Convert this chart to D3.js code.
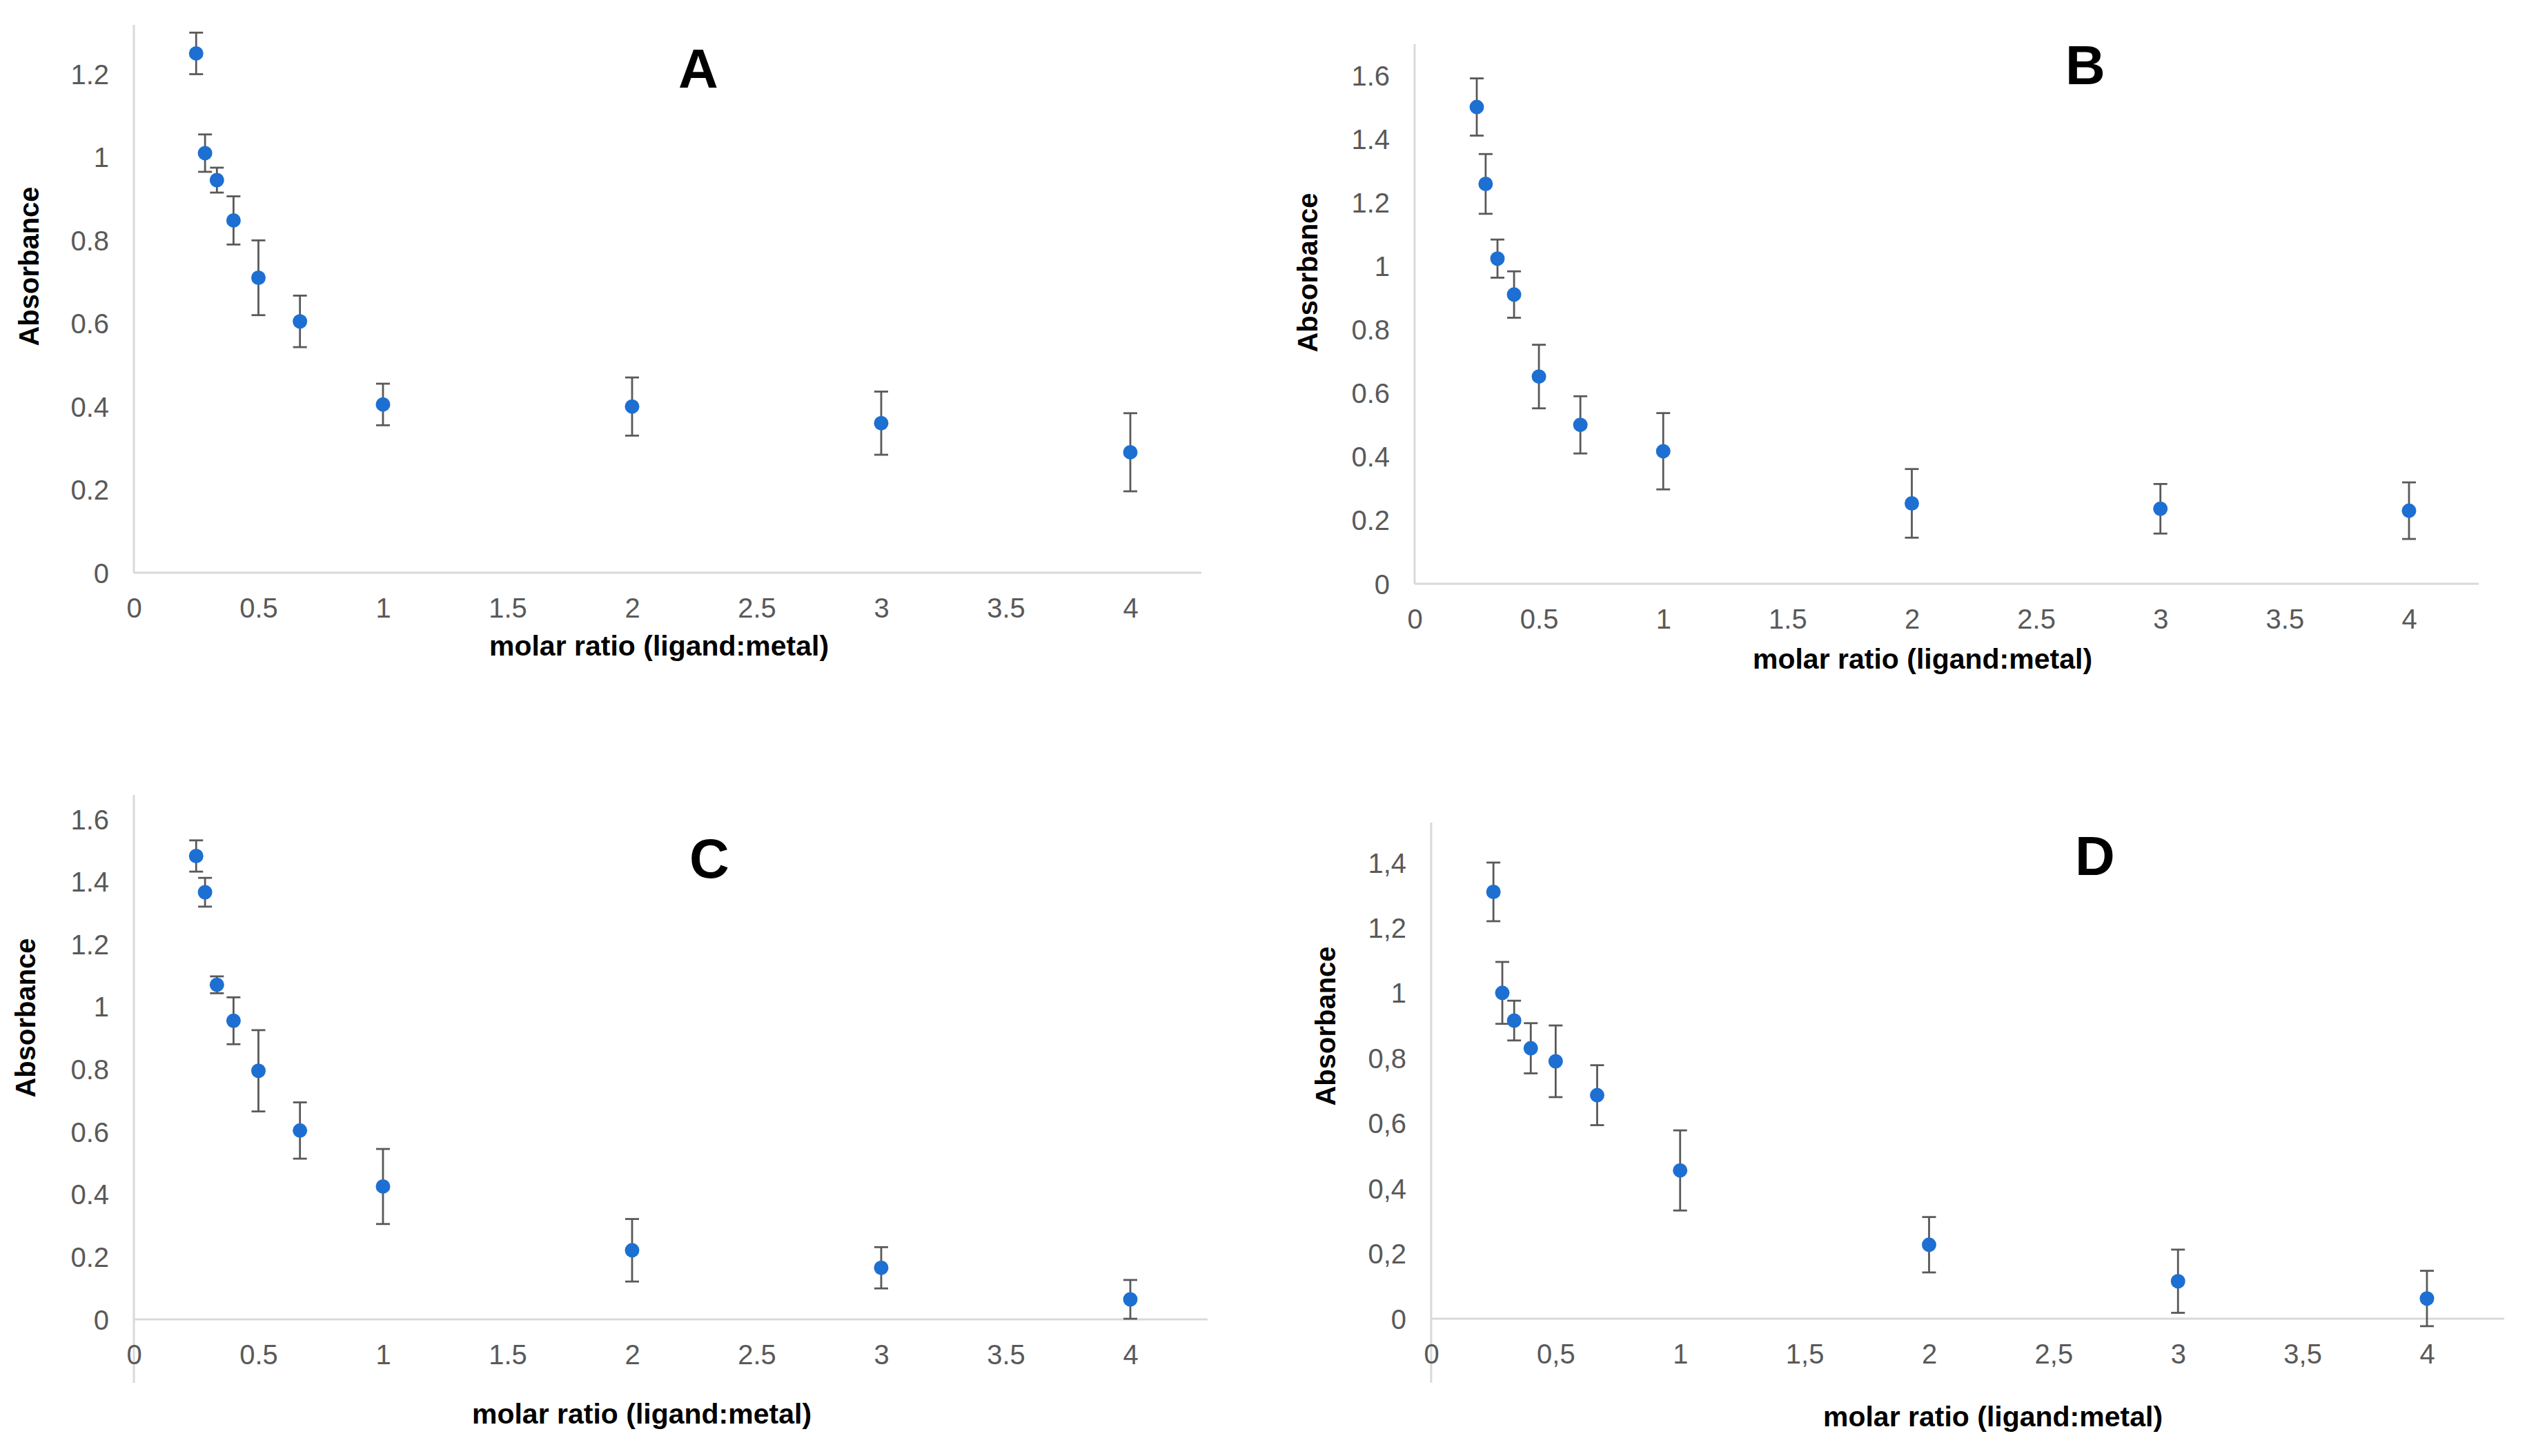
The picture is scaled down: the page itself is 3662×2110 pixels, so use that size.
<!DOCTYPE html>
<html>

<head>
    <meta charset="UTF-8">
    <title>Absorbance vs molar ratio</title>
    <script src="https://cdnjs.cloudflare.com/ajax/libs/d3/7.8.5/d3.min.js"></script>
    <style>
        body { margin: 0; background: #fff; }
        svg { display: block; }
    </style>
</head>

<body>
    <svg id="chart"></svg>
    <script>

        // molar ratio (ligand:metal) for every measured point
        var ratios = [0.25, 0.2857, 0.3333, 0.4, 0.5, 0.6667, 1, 2, 3, 4];

        // absorbance means and error half-widths
        var absA = [1.25, 1.01, 0.945, 0.848, 0.71, 0.605, 0.405, 0.40, 0.36, 0.29];
        var errA = [0.05, 0.045, 0.03, 0.058, 0.09, 0.062, 0.05, 0.07, 0.076, 0.094];

        var absB = [1.50, 1.258, 1.023, 0.91, 0.652, 0.50, 0.417, 0.253, 0.236, 0.230];
        var errB = [0.09, 0.094, 0.06, 0.073, 0.10, 0.09, 0.12, 0.108, 0.078, 0.089];

        var absC = [1.482, 1.366, 1.07, 0.955, 0.795, 0.604, 0.425, 0.221, 0.165, 0.064];
        var errC = [0.05, 0.046, 0.027, 0.075, 0.13, 0.09, 0.12, 0.10, 0.066, 0.062];

        var absD = [1.31, 1.00, 0.915, 0.83, 0.79, 0.686, 0.455, 0.227, 0.115, 0.062];
        var errD = [0.09, 0.095, 0.061, 0.077, 0.11, 0.092, 0.123, 0.085, 0.097, 0.085];

        // tick values
        var xTicks = [0, 0.5, 1, 1.5, 2, 2.5, 3, 3.5, 4];
        var yTicksA = [0, 0.2, 0.4, 0.6, 0.8, 1, 1.2];
        var yTicksB = [0, 0.2, 0.4, 0.6, 0.8, 1, 1.2, 1.4, 1.6];
        var yTicksC = [0, 0.2, 0.4, 0.6, 0.8, 1, 1.2, 1.4, 1.6];
        var yTicksD = [0, 0.2, 0.4, 0.6, 0.8, 1, 1.2, 1.4];

        var panelLetters = ["A", "B", "C", "D"];
        var xTitle = "molar ratio (ligand:metal)";
        var yTitle = "Absorbance";

        var W = 3662, H = 2110;
        var font = "'Liberation Sans', Arial, Helvetica, sans-serif";

        // where each panel sits on the page
        var panels = [
            { letter: panelLetters[0], abs: absA, err: errA, yTicks: yTicksA, dec: ".",
              x0: 194, x4: 1638, xEnd: 1741, y0: 830, yTopPx: 107.5, axisTop: 36, axisBottom: 830,
              titleX: 955, titleY: 950, yTitleX: 42, yTitleY: 386, letterX: 1012, letterY: 98 },
            { letter: panelLetters[1], abs: absB, err: errB, yTicks: yTicksB, dec: ".",
              x0: 2050, x4: 3491, xEnd: 3592, y0: 846, yTopPx: 109, axisTop: 64, axisBottom: 846,
              titleX: 2786, titleY: 969, yTitleX: 1895, yTitleY: 395, letterX: 3022, letterY: 93 },
            { letter: panelLetters[2], abs: absC, err: errC, yTicks: yTicksC, dec: ".",
              x0: 194, x4: 1638, xEnd: 1750, y0: 1912, yTopPx: 1187, axisTop: 1152, axisBottom: 2004,
              titleX: 930, titleY: 2063, yTitleX: 37, yTitleY: 1475, letterX: 1028, letterY: 1243 },
            { letter: panelLetters[3], abs: absD, err: errD, yTicks: yTicksD, dec: ",",
              x0: 2074, x4: 3517, xEnd: 3629, y0: 1911, yTopPx: 1250, axisTop: 1192, axisBottom: 2004,
              titleX: 2888, titleY: 2067, yTitleX: 1921, yTitleY: 1487, letterX: 3036, letterY: 1239 }
        ];

        var svg = d3.select("#chart")
            .attr("width", W)
            .attr("height", H);

        svg.append("rect")
            .attr("width", W)
            .attr("height", H)
            .attr("fill", "#fff");

        function drawPanel(p) {

            var g = svg.append("g").attr("class", "panel");

            var x = d3.scaleLinear().domain([0, 4]).range([p.x0, p.x4]);
            var yMax = p.yTicks[p.yTicks.length - 1];
            var y = d3.scaleLinear().domain([0, yMax]).range([p.y0, p.yTopPx]);

            var fmt = function (d) { return String(d).replace(".", p.dec) };

            // axis lines
            g.append("line")
                .attr("x1", p.x0).attr("x2", p.x0)
                .attr("y1", p.axisTop).attr("y2", p.axisBottom)
                .attr("stroke", "#d9d9d9")
                .attr("stroke-width", 3);

            g.append("line")
                .attr("x1", p.x0).attr("x2", p.xEnd)
                .attr("y1", y(0)).attr("y2", y(0))
                .attr("stroke", "#d9d9d9")
                .attr("stroke-width", 3);

            // tick labels
            var ax = g.append("g")
                .attr("transform", "translate(0," + y(0) + ")")
                .call(d3.axisBottom(x).tickValues(xTicks).tickSize(0).tickPadding(37).tickFormat(fmt));
            ax.select(".domain").remove();

            var ay = g.append("g")
                .attr("transform", "translate(" + p.x0 + ",0)")
                .call(d3.axisLeft(y).tickValues(p.yTicks).tickSize(0).tickPadding(36).tickFormat(fmt));
            ay.select(".domain").remove();

            g.selectAll(".tick text")
                .attr("fill", "#595959")
                .attr("font-family", font)
                .attr("font-size", 40);

            ax.selectAll(".tick text").attr("dy", "0.71em");
            ay.selectAll(".tick text").attr("dy", "0.35em");

            var pts = ratios.map(function (r, i) {
                return { x: r, v: p.abs[i], e: p.err[i] };
            });

            // error bars
            var eb = g.append("g")
                .attr("stroke", "#595959")
                .attr("stroke-width", 2.8)
                .attr("fill", "none");

            eb.selectAll(".stem")
                .data(pts)
                .enter().append("line")
                .attr("x1", function (d) { return x(d.x) })
                .attr("x2", function (d) { return x(d.x) })
                .attr("y1", function (d) { return y(d.v + d.e) })
                .attr("y2", function (d) { return y(d.v - d.e) });

            eb.selectAll(".capTop")
                .data(pts)
                .enter().append("line")
                .attr("x1", function (d) { return x(d.x) - 10 })
                .attr("x2", function (d) { return x(d.x) + 10 })
                .attr("y1", function (d) { return y(d.v + d.e) })
                .attr("y2", function (d) { return y(d.v + d.e) });

            eb.selectAll(".capBottom")
                .data(pts)
                .enter().append("line")
                .attr("x1", function (d) { return x(d.x) - 10 })
                .attr("x2", function (d) { return x(d.x) + 10 })
                .attr("y1", function (d) { return y(d.v - d.e) })
                .attr("y2", function (d) { return y(d.v - d.e) });

            // markers
            g.selectAll(".dot")
                .data(pts)
                .enter().append("circle")
                .attr("cx", function (d) { return x(d.x) })
                .attr("cy", function (d) { return y(d.v) })
                .attr("r", 10.5)
                .attr("fill", "#1d6fd2");

            // titles
            g.append("text")
                .attr("x", p.titleX)
                .attr("y", p.titleY)
                .attr("text-anchor", "middle")
                .attr("font-family", font)
                .attr("font-weight", "bold")
                .attr("font-size", 41)
                .attr("fill", "#000")
                .text(xTitle);

            g.append("text")
                .attr("transform", "translate(" + p.yTitleX + "," + p.yTitleY + ") rotate(-90)")
                .attr("text-anchor", "middle")
                .attr("dy", "0.35em")
                .attr("font-family", font)
                .attr("font-weight", "bold")
                .attr("font-size", 40)
                .attr("fill", "#000")
                .text(yTitle);

            g.append("text")
                .attr("x", p.letterX)
                .attr("y", p.letterY)
                .attr("text-anchor", "middle")
                .attr("dy", "0.36em")
                .attr("font-family", font)
                .attr("font-weight", "bold")
                .attr("font-size", 80)
                .attr("fill", "#000")
                .text(p.letter);
        }

        panels.forEach(drawPanel);

    </script>
</body>

</html>
